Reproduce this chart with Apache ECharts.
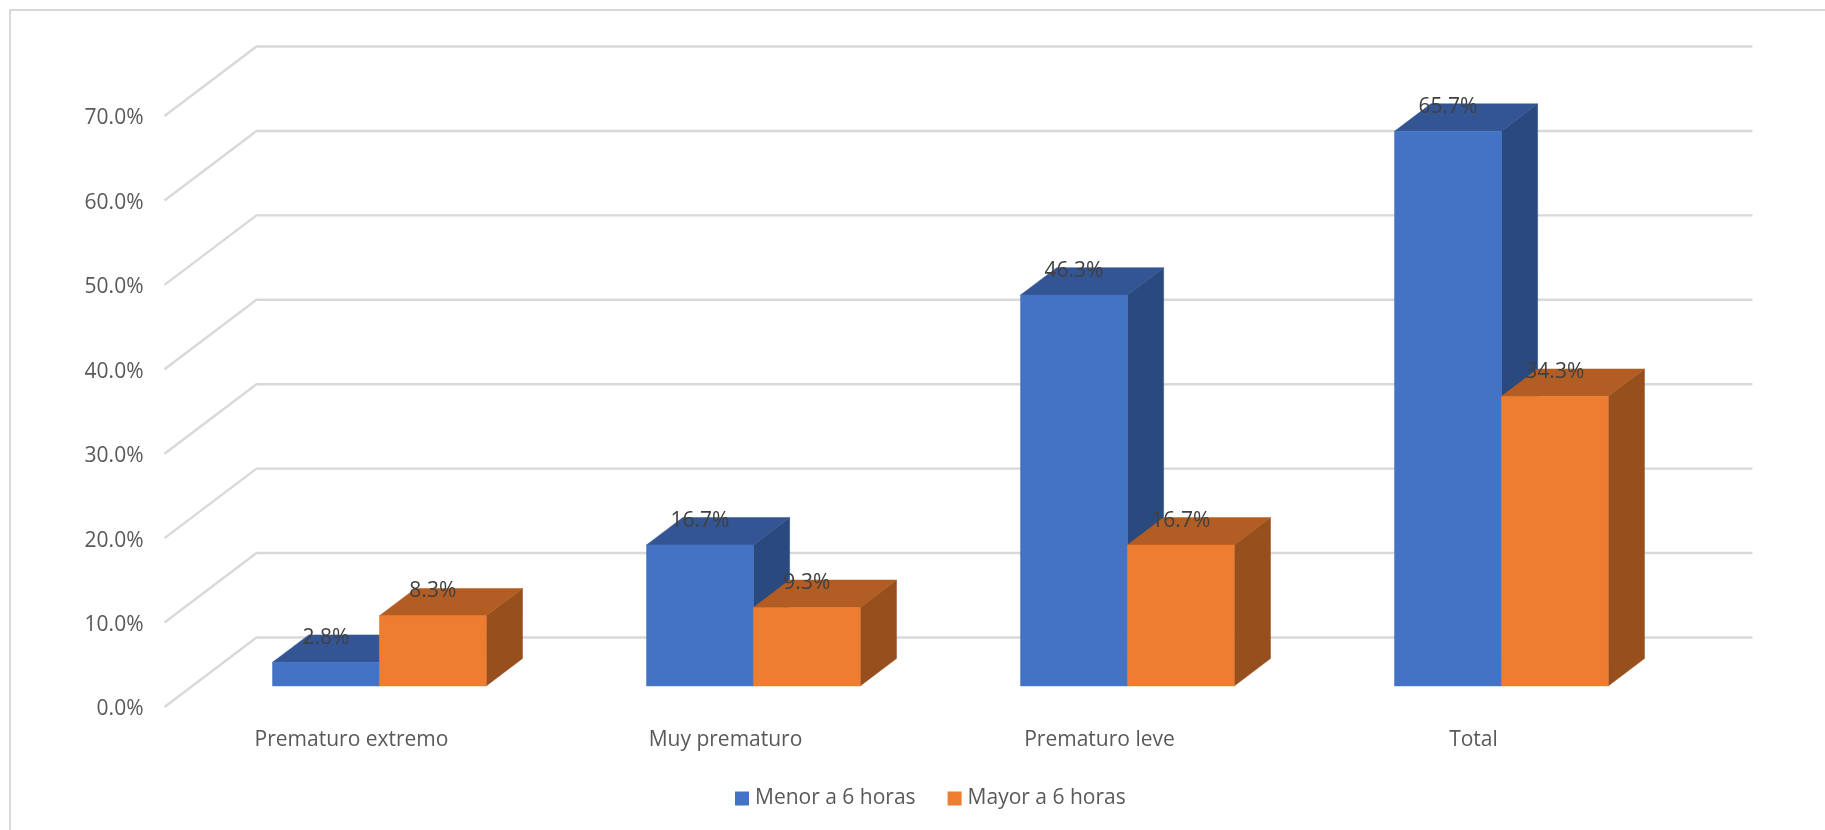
<!DOCTYPE html>
<html>
<head>
<meta charset="utf-8">
<style>html,body{margin:0;padding:0;background:#fff}#chart{width:1825px;height:830px}</style>
<script src="https://cdn.jsdelivr.net/npm/echarts@6/dist/echarts.min.js"></script>
</head>
<body>
<div id="chart"></div>
<script>
const categories = ['Prematuro extremo', 'Muy prematuro', 'Prematuro leve', 'Total'];
const menorSeis = [2.8, 16.7, 46.3, 65.7];
const mayorSeis = [8.3, 9.3, 16.7, 34.3];
const axisTicks = [0, 10, 20, 30, 40, 50, 60, 70];

// Oblique projection: depth 1 is the back wall, depth 0 the front floor edge.
const DEPTH_X = 92;
const DEPTH_Y = -69.5;
const BAR_FRONT = 0.303;
const BAR_BACK = 0.697;
const BARS_PER_BAND = 3.5;
const FONT = '"Open Sans", "Noto Sans", sans-serif';

function project(p, depth) {
  return [p[0] + DEPTH_X * depth, p[1] + DEPTH_Y * depth];
}

function face(points, fill) {
  return {
    type: 'polygon',
    shape: { points },
    style: { fill, stroke: fill, lineWidth: 0.5 }
  };
}

// One extruded bar per data item; side 0 sits left of the band centre, side 1 right.
function barRenderer(side, values, faces) {
  return function (params, api) {
    const i = params.dataIndex;
    const value = values[i];
    const base = api.coord([i, 0]);
    const top = api.coord([i, value]);
    const w = api.size([1, 0])[0] / BARS_PER_BAND;
    const x0 = base[0] - w + side * w;
    const x1 = x0 + w;
    const at = (x, y, d) => project([x, y], d);
    return {
      type: 'group',
      children: [
        face([at(x1, base[1], BAR_FRONT), at(x1, base[1], BAR_BACK), at(x1, top[1], BAR_BACK), at(x1, top[1], BAR_FRONT)], faces.side),
        face([at(x0, top[1], BAR_FRONT), at(x1, top[1], BAR_FRONT), at(x1, top[1], BAR_BACK), at(x0, top[1], BAR_BACK)], faces.top),
        face([at(x0, base[1], BAR_FRONT), at(x1, base[1], BAR_FRONT), at(x1, top[1], BAR_FRONT), at(x0, top[1], BAR_FRONT)], faces.front),
        {
          type: 'text',
          style: {
            x: (x0 + x1) / 2 + DEPTH_X * BAR_FRONT,
            y: top[1] + DEPTH_Y * BAR_BACK + 3,
            text: value.toFixed(1) + '%',
            fill: '#404040',
            font: '21px ' + FONT,
            align: 'center',
            verticalAlign: 'middle'
          }
        }
      ]
    };
  };
}

function wallRenderer(params, api) {
  const v = axisTicks[params.dataIndex];
  const y = api.coord([0, v])[1];
  const cs = params.coordSys;
  const front = [cs.x, y];
  const corner = project(front, 1);
  const end = project([cs.x + cs.width, y], 1);
  return {
    type: 'polyline',
    shape: { points: [front, corner, end] },
    style: { fill: 'none', stroke: '#d9d9d9', lineWidth: 2.4 }
  };
}

const chart = echarts.init(document.getElementById('chart'), null, { renderer: 'canvas' });
chart.setOption({
  animation: false,
  backgroundColor: '#ffffff',
  graphic: [{
    type: 'rect',
    silent: true,
    z: -1,
    shape: { x: 10, y: 10, width: 1830, height: 850 },
    style: { fill: 'none', stroke: '#d9d9d9', lineWidth: 2 }
  }],
  grid: { left: 164.5, top: 116, width: 1496, height: 591, containLabel: false },
  xAxis: {
    type: 'category',
    data: categories,
    axisLine: { show: false },
    axisTick: { show: false },
    splitLine: { show: false },
    axisLabel: { color: '#595959', fontFamily: FONT, fontSize: 21, margin: 23, interval: 0 }
  },
  yAxis: {
    type: 'value',
    min: 0,
    max: 70,
    interval: 10,
    axisLine: { show: false },
    axisTick: { show: false },
    splitLine: { show: false },
    axisLabel: {
      color: '#595959',
      fontFamily: FONT,
      fontSize: 21,
      margin: 21,
      verticalAlign: 'top',
      lineHeight: 5,
      formatter: v => v.toFixed(1) + '%'
    }
  },
  legend: {
    left: 735,
    top: 788,
    padding: 0,
    icon: 'rect',
    itemWidth: 14,
    itemHeight: 14,
    itemGap: 32,
    textStyle: { color: '#595959', fontFamily: FONT, fontSize: 21, padding: [0, 0, 0, 1] },
    data: ['Menor a 6 horas', 'Mayor a 6 horas']
  },
  series: [
    {
      type: 'custom',
      silent: true,
      data: axisTicks,
      renderItem: wallRenderer,
      clip: false
    },
    {
      name: 'Menor a 6 horas',
      type: 'custom',
      itemStyle: { color: '#4472C4' },
      data: menorSeis.map((v, i) => [i, v]),
      encode: { x: 0, y: 1 },
      renderItem: barRenderer(0, menorSeis, { front: '#4472C4', top: '#335593', side: '#2A4A7F' }),
      clip: false
    },
    {
      name: 'Mayor a 6 horas',
      type: 'custom',
      itemStyle: { color: '#ED7D31' },
      data: mayorSeis.map((v, i) => [i, v]),
      encode: { x: 0, y: 1 },
      renderItem: barRenderer(1, mayorSeis, { front: '#ED7D31', top: '#B25D23', side: '#964F1D' }),
      clip: false
    }
  ]
});
</script>
</body>
</html>
